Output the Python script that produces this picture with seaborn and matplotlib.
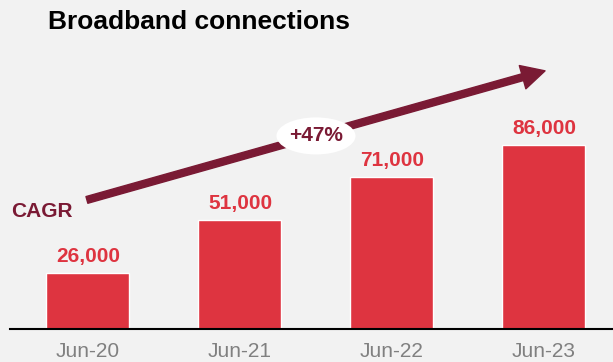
import matplotlib
matplotlib.use("Agg")
import matplotlib.pyplot as plt
from matplotlib.patches import Ellipse
import seaborn as sns
import pandas as pd

periods = ["Jun-20", "Jun-21", "Jun-22", "Jun-23"]
connections = [26000, 51000, 71000, 86000]
value_labels = ["26,000", "51,000", "71,000", "86,000"]
cagr_label = "+47%"

BG = "#f2f2f2"
BAR = "#de3440"
MAROON = "#7a1a34"
GREY = "#808080"

sns.set_theme(style="white")
plt.rcParams["font.family"] = ["Liberation Sans", "DejaVu Sans"]

fig = plt.figure(figsize=(6.13, 3.62), dpi=100, facecolor=BG)
ax = fig.add_axes([10 / 613, 33 / 362, 603 / 613, 329 / 362])
ax.set_facecolor(BG)

df = pd.DataFrame({"period": periods, "connections": connections})
sns.barplot(data=df, x="period", y="connections", color=BAR, saturation=1,
            width=0.546, edgecolor="white", linewidth=1, ax=ax)

ax.set_xlim(-0.513, 3.454)
ax.set_ylim(0, 153700)

ax.bar_label(ax.containers[0], labels=value_labels, padding=5,
             fontsize=15, fontweight="bold", color=BAR)

# CAGR trend arrow with the growth rate in a white oval
ax.annotate("", xy=(3.007, 120600), xytext=(-0.007, 60300),
            arrowprops=dict(arrowstyle="simple,head_length=0.84,head_width=0.87,tail_width=0.25",
                            mutation_scale=20, color=MAROON, shrinkA=0, shrinkB=0))
ax.add_patch(Ellipse((1.5, 90200), width=0.52, height=17300,
                     facecolor="white", edgecolor="none", zorder=5))
ax.text(1.5, 90200, cagr_label, ha="center", va="center", fontsize=15,
        fontweight="bold", color=MAROON, zorder=6)

fig.text(11 / 613, 1 - 212 / 362, "CAGR", ha="left", va="center",
         fontsize=15, fontweight="bold", color=MAROON)
fig.text(48 / 613, 1 - 29 / 362, "Broadband connections", ha="left",
         va="baseline", fontsize=19, fontweight="bold", color="black")

ax.set_xlabel("")
ax.set_ylabel("")
ax.set_yticks([])
ax.tick_params(axis="x", length=0, pad=9.5, labelsize=15, labelcolor=GREY)
for side in ["top", "left", "right"]:
    ax.spines[side].set_visible(False)
ax.spines["bottom"].set_color("black")
ax.spines["bottom"].set_linewidth(1.5)

fig.savefig("out.png", dpi=100, facecolor=BG)
